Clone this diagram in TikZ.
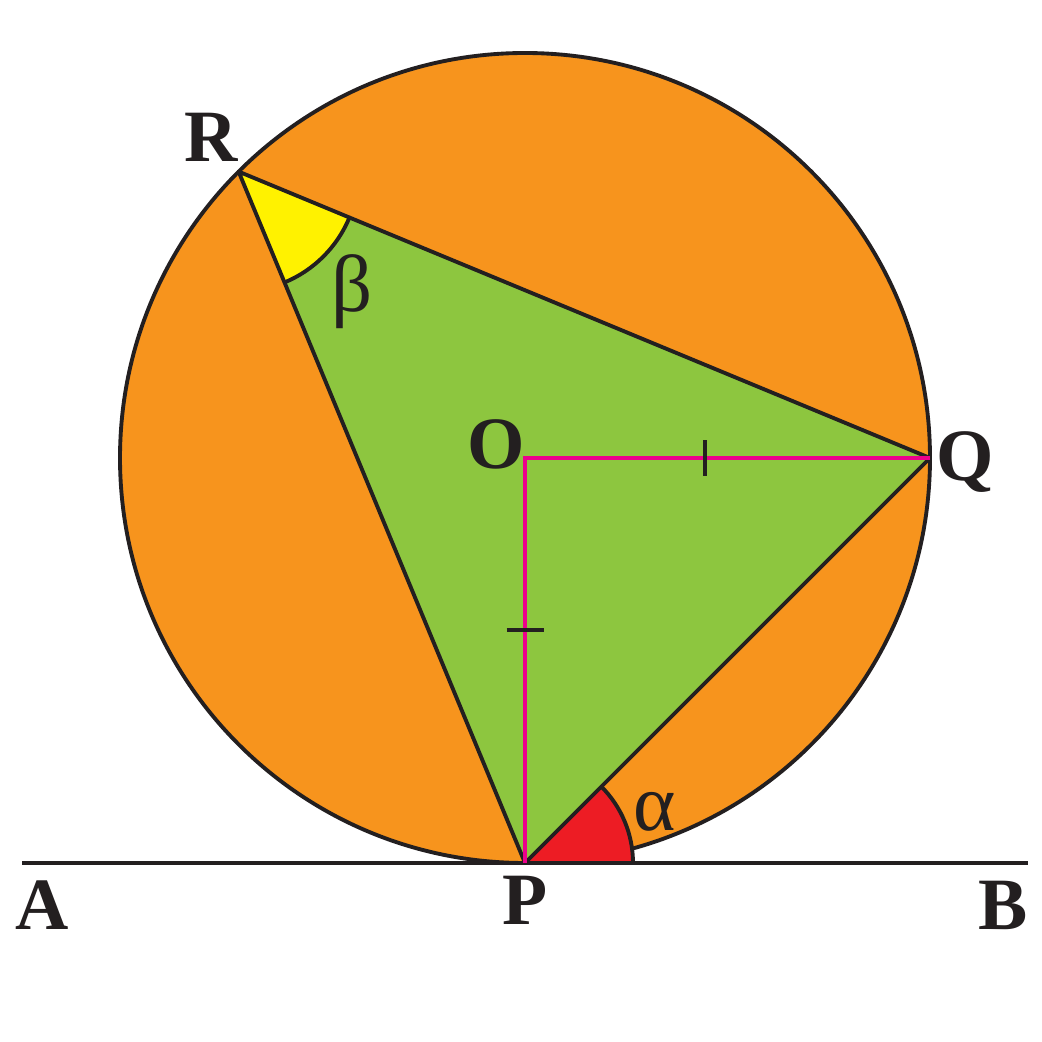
\documentclass[tikz,border=0pt]{standalone}
\usepackage{fontspec}
\setmainfont{Liberation Serif}
\definecolor{orng}{HTML}{F7941D}
\definecolor{grn}{HTML}{8DC63F}
\definecolor{ylw}{HTML}{FFF200}
\definecolor{rd}{HTML}{ED1C24}
\definecolor{pnk}{HTML}{EC008C}
\definecolor{ink}{HTML}{231F20}
\begin{document}
\begin{tikzpicture}[
  edge/.style={draw=ink, line width=1.1pt, line join=round},
  pinkline/.style={draw=pnk, line width=0.9pt},
  tick/.style={draw=ink, line width=0.9pt},
  lbl/.style={text=ink, font=\fontsize{21}{25}\selectfont\bfseries, inner sep=0pt},
  glbl/.style={text=ink, font=\fontsize{23}{26}\selectfont, inner sep=0pt}
]
\useasboundingbox (0,0) rectangle (10.42,10.42);
\coordinate (O) at (5.25,5.84);
\coordinate (P) at (5.25,1.79);
\coordinate (Q) at (9.30,5.84);
\coordinate (R) at (2.386,8.704);
\coordinate (A) at (0.22,1.79);
\coordinate (B) at (10.28,1.79);
% fills
\fill[orng] (O) circle (4.05);
\fill[grn] (R) -- (Q) -- (P) -- cycle;
\fill[ylw] (R) -- ++(-22.5:1.2) arc (-22.5:-67.5:1.2) -- cycle;
\draw[edge] (O) circle (4.05);
\fill[rd] (P) -- ++(0:1.08) arc (0:45:1.08) -- cycle;
% outlines
\draw[edge] (R) ++(-22.5:1.2) arc (-22.5:-67.5:1.2);
\draw[edge] (P) ++(0:1.08) arc (0:45:1.08);
\draw[edge] (R) -- (Q) -- (P) -- cycle;
\draw[edge] (A) -- (B);
% radii
\draw[pinkline] (Q) -- (O) -- (P);
\draw[tick] (7.05,5.66) -- (7.05,6.02);
\draw[tick] (5.065,4.12) -- (5.435,4.12);
% labels
\node[lbl] (lR) at (2.11,9.05) {R};
\node[lbl] (lO) at (4.96,5.98) {O};
\node[lbl] (lQ) at (9.65,5.80) {Q};
\node[lbl] (lA) at (0.42,1.37) {A};
\node[lbl] (lP) at (5.25,1.42) {P};
\node[lbl] (lB) at (10.03,1.37) {B};
\node[glbl] (lbeta) at (3.52,7.50) {β};
\node[glbl] (lalpha) at (6.55,2.30) {α};
\end{tikzpicture}
\end{document}
